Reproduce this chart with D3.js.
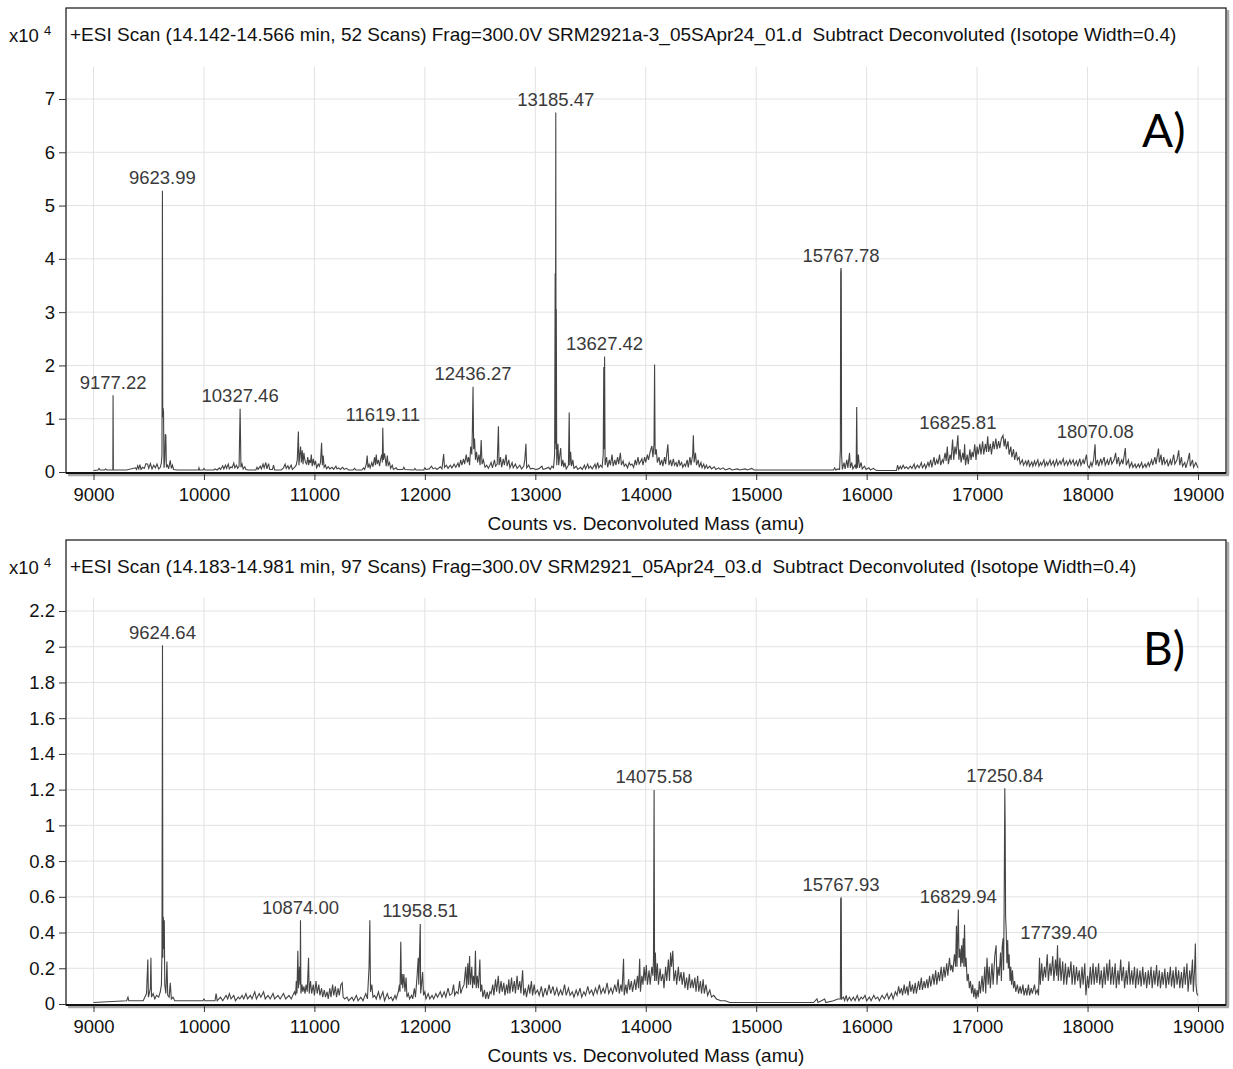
<!DOCTYPE html>
<html><head><meta charset="utf-8">
<script src="https://cdn.jsdelivr.net/npm/d3@7"></script>
<style>body{margin:0;background:#fff}svg text{font-family:"Liberation Sans",Arial,sans-serif}</style>
</head><body><svg id="c" width="1233" height="1069"></svg>
<script>
// ---------- DATA ----------
const xTicks = [9000,10000,11000,12000,13000,14000,15000,16000,17000,18000,19000];
const yTicksA = [0,1,2,3,4,5,6,7];
const yTicksB = [0,0.2,0.4,0.6,0.8,1,1.2,1.4,1.6,1.8,2,2.2];
const titleA = "+ESI Scan (14.142-14.566 min, 52 Scans) Frag=300.0V SRM2921a-3_05SApr24_01.d  Subtract Deconvoluted (Isotope Width=0.4)";
const titleB = "+ESI Scan (14.183-14.981 min, 97 Scans) Frag=300.0V SRM2921_05Apr24_03.d  Subtract Deconvoluted (Isotope Width=0.4)";
const xTitle = "Counts vs. Deconvoluted Mass (amu)";
// labelled peaks: [mass, intensity x10^4]
const peaksA = [[9177.22,1.41],[9623.99,5.25],[10327.46,1.16],[11619.11,0.8],[12436.27,1.57],[13185.47,6.72],[13627.42,2.14],[15767.78,3.8],[16825.81,0.66],[18070.08,0.49]];
const peaksB = [[9624.64,2.0],[10874.00,0.46],[11958.51,0.44],[14075.58,1.19],[15767.93,0.585],[16829.94,0.52],[17250.84,1.2],[17739.40,0.32]];
// spectrum A: [mass, intensity x10^4]
const spectrumA = [[9000,0],[9040,0.01],[9050,0.04],[9060,0.01],[9100,0.01],[9110,0.03],[9120,0.01],[9175,0.01],[9177.22,1.41],[9180,0.01],[9300,0.01],[9380,0.05],[9390,0.02],[9400,0.09],[9410,0.03],[9420,0.11],[9430,0.02],[9445,0.06],[9460,0.04],[9475,0.13],[9490,0.12],[9500,0.04],[9515,0.13],[9530,0.03],[9545,0.1],[9560,0.05],[9575,0.12],[9590,0.03],[9605,0.06],[9615,0.15],[9620,0.3],[9623.99,5.25],[9627,1.0],[9630,1.17],[9634,1.1],[9638,0.05],[9645,0.2],[9650,0.68],[9655,0.66],[9660,0.06],[9670,0.1],[9680,0.03],[9695,0.19],[9705,0.04],[9715,0.1],[9725,0.02],[9760,0.01],[9950,0.01],[9955,0.05],[9960,0.01],[9990,0.01],[10000,0.04],[10010,0.01],[10090,0.01],[10100,0.03],[10120,0.01],[10140,0.05],[10150,0.02],[10170,0.09],[10180,0.03],[10195,0.1],[10205,0.04],[10220,0.12],[10230,0.03],[10245,0.07],[10255,0.05],[10270,0.14],[10280,0.05],[10295,0.1],[10305,0.04],[10318,0.08],[10327.46,1.16],[10335,0.06],[10345,0.12],[10355,0.03],[10370,0.07],[10380,0.02],[10400,0.01],[10470,0.01],[10480,0.06],[10490,0.02],[10510,0.08],[10520,0.03],[10535,0.12],[10545,0.05],[10560,0.15],[10570,0.03],[10585,0.13],[10595,0.02],[10620,0.02],[10630,0.1],[10640,0.01],[10700,0.01],[10720,0.05],[10735,0.12],[10745,0.04],[10760,0.09],[10770,0.03],[10790,0.1],[10800,0.02],[10820,0.06],[10835,0.1],[10845,0.2],[10855,0.73],[10860,0.1],[10868,0.3],[10875,0.45],[10882,0.15],[10890,0.38],[10897,0.12],[10905,0.33],[10912,0.22],[10920,0.15],[10930,0.12],[10940,0.25],[10948,0.1],[10955,0.2],[10965,0.14],[10972,0.3],[10980,0.08],[10990,0.22],[11000,0.1],[11010,0.18],[11020,0.05],[11035,0.12],[11045,0.08],[11055,0.15],[11065,0.52],[11072,0.1],[11080,0.28],[11088,0.06],[11100,0.1],[11110,0.03],[11125,0.07],[11140,0.03],[11160,0.06],[11175,0.02],[11195,0.08],[11205,0.03],[11220,0.05],[11235,0.02],[11255,0.06],[11270,0.02],[11290,0.04],[11310,0.01],[11350,0.01],[11365,0.04],[11375,0.01],[11430,0.01],[11445,0.05],[11455,0.02],[11470,0.12],[11478,0.28],[11485,0.05],[11495,0.12],[11505,0.05],[11520,0.15],[11530,0.07],[11545,0.25],[11552,0.1],[11560,0.3],[11568,0.12],[11580,0.2],[11590,0.08],[11600,0.22],[11610,0.3],[11615,0.15],[11619.11,0.8],[11625,0.2],[11635,0.32],[11642,0.22],[11650,0.08],[11660,0.28],[11668,0.1],[11680,0.15],[11690,0.04],[11705,0.1],[11715,0.02],[11740,0.05],[11750,0.02],[11800,0.02],[11810,0.06],[11820,0.02],[11900,0.01],[11910,0.04],[11920,0.01],[11990,0.01],[12000,0.05],[12010,0.02],[12040,0.03],[12060,0.08],[12075,0.03],[12095,0.05],[12110,0.02],[12140,0.07],[12155,0.03],[12170,0.31],[12178,0.06],[12195,0.1],[12210,0.04],[12230,0.1],[12245,0.05],[12265,0.12],[12280,0.06],[12300,0.14],[12310,0.06],[12325,0.2],[12335,0.1],[12350,0.22],[12360,0.12],[12375,0.3],[12385,0.15],[12395,0.25],[12405,0.1],[12415,0.45],[12425,0.3],[12430,0.73],[12436.27,1.57],[12442,0.4],[12450,0.6],[12458,0.2],[12468,0.35],[12478,0.15],[12490,0.3],[12500,0.1],[12510,0.57],[12518,0.12],[12530,0.2],[12545,0.06],[12560,0.1],[12575,0.04],[12600,0.15],[12612,0.05],[12630,0.2],[12640,0.08],[12655,0.12],[12666,0.83],[12672,0.1],[12685,0.25],[12695,0.06],[12710,0.22],[12720,0.1],[12735,0.3],[12745,0.08],[12760,0.2],[12770,0.05],[12790,0.15],[12800,0.05],[12820,0.12],[12835,0.04],[12860,0.1],[12875,0.03],[12895,0.08],[12905,0.2],[12915,0.5],[12922,0.05],[12940,0.1],[12955,0.03],[12980,0.04],[13000,0.02],[13030,0.03],[13060,0.08],[13070,0.02],[13100,0.04],[13120,0.06],[13135,0.02],[13150,0.08],[13165,0.05],[13175,0.3],[13180,3.7],[13182,0.5],[13185.47,6.72],[13188,0.4],[13190,3.03],[13194,0.1],[13205,0.5],[13212,0.1],[13222,0.3],[13230,0.42],[13238,0.08],[13250,0.2],[13258,0.06],[13268,0.15],[13280,0.03],[13300,0.1],[13307,1.09],[13312,0.1],[13320,0.35],[13328,0.08],[13340,0.2],[13350,0.04],[13370,0.08],[13385,0.02],[13410,0.06],[13425,0.02],[13445,0.1],[13455,0.03],[13475,0.12],[13485,0.04],[13500,0.08],[13515,0.03],[13540,0.12],[13550,0.04],[13565,0.15],[13575,0.05],[13590,0.1],[13605,0.06],[13615,0.3],[13620,1.94],[13624,0.4],[13627.42,2.14],[13632,0.1],[13645,0.25],[13655,0.06],[13670,0.2],[13680,0.1],[13695,0.3],[13705,0.08],[13720,0.2],[13730,0.1],[13745,0.25],[13755,0.12],[13770,0.33],[13780,0.1],[13795,0.18],[13805,0.08],[13820,0.12],[13835,0.05],[13850,0.15],[13862,0.1],[13875,0.12],[13890,0.06],[13905,0.2],[13915,0.1],[13930,0.25],[13940,0.12],[13955,0.18],[13965,0.22],[13975,0.1],[13990,0.25],[14000,0.15],[14015,0.3],[14025,0.2],[14040,0.35],[14055,0.46],[14065,0.25],[14075,0.5],[14080,1.99],[14085,0.3],[14095,0.4],[14105,0.15],[14120,0.25],[14130,0.1],[14145,0.2],[14155,0.08],[14170,0.25],[14180,0.12],[14200,0.49],[14210,0.1],[14225,0.2],[14235,0.08],[14250,0.22],[14260,0.1],[14275,0.15],[14285,0.07],[14300,0.2],[14310,0.1],[14325,0.15],[14335,0.06],[14350,0.12],[14360,0.08],[14375,0.2],[14385,0.06],[14400,0.25],[14410,0.1],[14425,0.3],[14431,0.66],[14438,0.15],[14450,0.33],[14460,0.1],[14475,0.2],[14485,0.06],[14500,0.15],[14510,0.05],[14525,0.12],[14535,0.04],[14550,0.1],[14560,0.04],[14580,0.08],[14595,0.03],[14620,0.07],[14635,0.02],[14660,0.05],[14675,0.02],[14700,0.05],[14720,0.01],[14760,0.04],[14780,0.01],[14830,0.03],[14850,0.01],[14900,0.03],[14920,0.01],[14960,0.04],[14980,0.01],[15700,0.01],[15710,0.05],[15720,0.01],[15740,0.03],[15755,0.02],[15762,0.4],[15765,3.7],[15767.78,3.8],[15770,3.75],[15773,0.3],[15780,0.02],[15795,0.15],[15805,0.03],[15820,0.2],[15830,0.05],[15845,0.33],[15852,0.05],[15865,0.15],[15875,0.03],[15895,0.1],[15905,0.03],[15910,1.19],[15915,0.05],[15925,0.3],[15935,0.05],[15950,0.15],[15960,0.03],[15980,0.08],[15995,0.02],[16020,0.05],[16035,0.01],[16060,0.04],[16080,0.01],[16100,0],[16270,0],[16280,0.1],[16290,0.02],[16305,0.08],[16315,0.03],[16330,0.1],[16345,0.04],[16360,0.07],[16375,0.03],[16395,0.08],[16410,0.04],[16430,0.12],[16440,0.03],[16460,0.1],[16475,0.05],[16495,0.15],[16505,0.05],[16525,0.12],[16535,0.04],[16555,0.15],[16565,0.08],[16580,0.2],[16590,0.06],[16610,0.25],[16620,0.1],[16635,0.2],[16645,0.12],[16660,0.3],[16670,0.1],[16685,0.2],[16695,0.15],[16710,0.33],[16720,0.18],[16730,0.45],[16740,0.12],[16755,0.3],[16765,0.2],[16778,0.58],[16788,0.2],[16800,0.45],[16810,0.3],[16825.81,0.66],[16835,0.2],[16845,0.4],[16855,0.15],[16870,0.33],[16880,0.2],[16887,0.49],[16895,0.1],[16910,0.3],[16920,0.12],[16935,0.4],[16945,0.2],[16955,0.35],[16965,0.25],[16979,0.49],[16990,0.2],[17000,0.45],[17010,0.3],[17025,0.5],[17035,0.3],[17050,0.55],[17060,0.3],[17075,0.5],[17085,0.35],[17096,0.64],[17105,0.35],[17120,0.5],[17130,0.3],[17145,0.55],[17155,0.4],[17170,0.6],[17180,0.4],[17195,0.55],[17205,0.42],[17220,0.6],[17235,0.66],[17245,0.45],[17255,0.6],[17265,0.4],[17280,0.55],[17290,0.3],[17305,0.45],[17315,0.25],[17330,0.4],[17340,0.2],[17355,0.35],[17365,0.2],[17380,0.25],[17390,0.12],[17410,0.2],[17420,0.1],[17440,0.18],[17450,0.1],[17465,0.2],[17475,0.08],[17495,0.16],[17505,0.08],[17520,0.18],[17530,0.1],[17550,0.2],[17560,0.08],[17575,0.15],[17585,0.1],[17605,0.2],[17615,0.08],[17630,0.16],[17640,0.1],[17660,0.2],[17670,0.1],[17690,0.18],[17700,0.08],[17720,0.2],[17730,0.1],[17750,0.18],[17760,0.12],[17780,0.22],[17790,0.1],[17810,0.18],[17820,0.1],[17840,0.2],[17850,0.12],[17870,0.2],[17880,0.1],[17900,0.18],[17910,0.08],[17930,0.22],[17940,0.1],[17960,0.2],[17970,0.12],[17990,0.3],[18000,0.1],[18015,0.05],[18030,0.15],[18040,0.08],[18055,0.2],[18068,0.49],[18075,0.1],[18090,0.2],[18100,0.08],[18120,0.22],[18130,0.12],[18150,0.25],[18160,0.1],[18180,0.2],[18190,0.1],[18210,0.25],[18220,0.12],[18240,0.2],[18254,0.33],[18265,0.12],[18280,0.25],[18290,0.1],[18310,0.2],[18320,0.12],[18342,0.42],[18350,0.1],[18370,0.2],[18380,0.06],[18400,0.15],[18410,0.06],[18430,0.12],[18440,0.05],[18460,0.12],[18470,0.06],[18490,0.15],[18500,0.05],[18520,0.12],[18530,0.06],[18550,0.15],[18560,0.08],[18580,0.2],[18590,0.1],[18610,0.25],[18620,0.12],[18642,0.41],[18650,0.15],[18665,0.3],[18675,0.1],[18690,0.25],[18700,0.12],[18720,0.2],[18730,0.08],[18750,0.2],[18760,0.1],[18780,0.3],[18790,0.12],[18810,0.2],[18825,0.38],[18835,0.1],[18850,0.25],[18860,0.08],[18880,0.15],[18890,0.05],[18910,0.2],[18923,0.33],[18930,0.08],[18950,0.2],[18960,0.06],[18980,0.15],[18990,0.1],[19000,0.05]];
// spectrum B: [mass, intensity x10^4]
const spectrumB = [[9000,0],[9300,0.01],[9312,0.03],[9320,0.01],[9450,0.01],[9480,0.05],[9492,0.24],[9497,0.03],[9505,0.05],[9515,0.08],[9520,0.25],[9525,0.03],[9540,0.05],[9555,0.02],[9570,0.04],[9590,0.03],[9605,0.06],[9615,0.1],[9620,0.3],[9624.64,2.0],[9628,0.25],[9632,0.48],[9637,0.3],[9641,0.46],[9645,0.1],[9655,0.05],[9665,0.23],[9672,0.04],[9685,0.03],[9695,0.11],[9705,0.02],[9720,0.03],[9735,0.01],[9900,0.01],[9990,0.01],[10000,0.02],[10010,0.01],[10100,0.01],[10110,0.05],[10120,0.01],[10150,0.03],[10170,0.01],[10200,0.04],[10215,0.02],[10230,0.05],[10245,0.02],[10270,0.04],[10285,0.01],[10310,0.03],[10325,0.02],[10345,0.04],[10360,0.02],[10380,0.05],[10395,0.02],[10420,0.04],[10435,0.02],[10460,0.06],[10475,0.02],[10500,0.05],[10515,0.03],[10540,0.06],[10555,0.02],[10580,0.04],[10600,0.02],[10625,0.05],[10640,0.02],[10670,0.04],[10690,0.02],[10720,0.05],[10740,0.02],[10770,0.04],[10790,0.02],[10820,0.06],[10830,0.04],[10836,0.12],[10842,0.05],[10850,0.29],[10856,0.08],[10865,0.2],[10871,0.1],[10874,0.46],[10878,0.05],[10888,0.1],[10895,0.06],[10905,0.09],[10915,0.05],[10925,0.1],[10935,0.06],[10947,0.25],[10953,0.05],[10965,0.12],[10975,0.05],[10990,0.1],[11000,0.04],[11015,0.12],[11025,0.05],[11040,0.1],[11050,0.04],[11065,0.08],[11075,0.03],[11090,0.07],[11100,0.03],[11115,0.06],[11125,0.02],[11140,0.08],[11150,0.03],[11165,0.1],[11175,0.04],[11190,0.09],[11200,0.03],[11215,0.08],[11225,0.04],[11240,0.1],[11252,0.11],[11260,0.03],[11275,0.02],[11295,0.03],[11310,0.01],[11340,0.03],[11355,0.01],[11380,0.04],[11395,0.01],[11420,0.03],[11440,0.01],[11465,0.05],[11480,0.02],[11495,0.2],[11502,0.46],[11508,0.06],[11520,0.1],[11530,0.03],[11545,0.04],[11560,0.02],[11580,0.06],[11595,0.02],[11620,0.06],[11635,0.01],[11660,0.05],[11675,0.02],[11695,0.03],[11710,0.01],[11730,0.04],[11740,0.02],[11760,0.06],[11770,0.1],[11775,0.06],[11782,0.34],[11788,0.1],[11795,0.16],[11800,0.08],[11810,0.16],[11820,0.06],[11830,0.14],[11838,0.03],[11850,0.05],[11862,0.02],[11880,0.04],[11890,0.02],[11905,0.08],[11915,0.03],[11930,0.15],[11940,0.25],[11945,0.1],[11958.51,0.44],[11962,0.05],[11970,0.1],[11980,0.17],[11988,0.04],[12000,0.06],[12010,0.02],[12030,0.05],[12045,0.02],[12065,0.04],[12080,0.02],[12100,0.05],[12115,0.03],[12140,0.06],[12155,0.03],[12175,0.06],[12190,0.03],[12210,0.08],[12225,0.04],[12245,0.05],[12260,0.1],[12270,0.04],[12285,0.06],[12300,0.05],[12315,0.12],[12325,0.05],[12340,0.08],[12355,0.1],[12370,0.2],[12378,0.08],[12389,0.22],[12395,0.1],[12405,0.26],[12412,0.1],[12425,0.2],[12432,0.08],[12440,0.15],[12450,0.1],[12458,0.29],[12465,0.08],[12475,0.15],[12485,0.08],[12498,0.24],[12505,0.06],[12515,0.1],[12525,0.03],[12540,0.07],[12550,0.02],[12565,0.06],[12575,0.02],[12590,0.06],[12600,0.05],[12615,0.1],[12625,0.04],[12640,0.13],[12650,0.06],[12665,0.15],[12675,0.05],[12690,0.12],[12700,0.06],[12715,0.11],[12725,0.04],[12740,0.1],[12750,0.05],[12760,0.13],[12770,0.05],[12785,0.14],[12795,0.06],[12810,0.12],[12820,0.05],[12835,0.15],[12845,0.07],[12860,0.12],[12870,0.05],[12885,0.18],[12895,0.04],[12910,0.08],[12920,0.03],[12940,0.1],[12950,0.05],[12965,0.12],[12975,0.04],[12990,0.1],[13000,0.05],[13020,0.07],[13035,0.04],[13055,0.09],[13070,0.03],[13090,0.08],[13105,0.04],[13125,0.1],[13140,0.05],[13160,0.09],[13175,0.04],[13195,0.08],[13210,0.04],[13230,0.07],[13245,0.04],[13265,0.1],[13280,0.04],[13300,0.08],[13315,0.04],[13335,0.06],[13350,0.03],[13370,0.07],[13385,0.04],[13405,0.08],[13420,0.03],[13440,0.06],[13455,0.04],[13475,0.09],[13490,0.05],[13510,0.07],[13525,0.04],[13545,0.08],[13560,0.05],[13580,0.1],[13595,0.05],[13615,0.08],[13630,0.05],[13650,0.11],[13665,0.05],[13685,0.08],[13700,0.05],[13720,0.1],[13735,0.06],[13750,0.13],[13760,0.05],[13775,0.1],[13785,0.06],[13799,0.245],[13805,0.04],[13820,0.1],[13830,0.05],[13845,0.13],[13855,0.07],[13870,0.12],[13880,0.06],[13900,0.13],[13910,0.07],[13925,0.15],[13935,0.08],[13945,0.245],[13952,0.06],[13965,0.15],[13975,0.1],[13985,0.2],[13995,0.12],[14005,0.21],[14015,0.1],[14030,0.18],[14040,0.1],[14055,0.2],[14065,0.15],[14070,0.24],[14075.58,1.19],[14080,0.12],[14087,0.28],[14095,0.12],[14105,0.22],[14115,0.1],[14130,0.19],[14140,0.12],[14155,0.16],[14165,0.08],[14180,0.2],[14190,0.12],[14205,0.24],[14215,0.12],[14225,0.28],[14233,0.2],[14245,0.29],[14255,0.12],[14270,0.18],[14280,0.1],[14295,0.2],[14305,0.12],[14320,0.17],[14330,0.1],[14345,0.17],[14355,0.08],[14370,0.14],[14380,0.07],[14395,0.16],[14405,0.08],[14420,0.13],[14430,0.08],[14445,0.14],[14455,0.06],[14470,0.15],[14480,0.06],[14495,0.12],[14505,0.05],[14520,0.13],[14530,0.05],[14545,0.1],[14560,0.04],[14580,0.07],[14595,0.03],[14615,0.04],[14640,0.02],[14680,0.01],[14720,0.01],[14760,0],[15520,0],[15550,0.02],[15560,0],[15620,0.02],[15630,0],[15700,0.01],[15740,0.02],[15762,0.02],[15765,0.58],[15767.93,0.585],[15770,0.58],[15773,0.02],[15790,0.03],[15800,0.01],[15815,0.04],[15825,0.01],[15845,0.03],[15860,0.01],[15880,0.03],[15895,0.01],[15915,0.04],[15930,0.01],[15950,0.03],[15965,0.02],[15985,0.04],[16000,0.01],[16025,0.03],[16040,0.01],[16065,0.04],[16080,0.02],[16100,0.03],[16115,0.01],[16140,0.04],[16160,0.02],[16185,0.05],[16200,0.02],[16225,0.05],[16240,0.02],[16260,0.06],[16275,0.04],[16290,0.09],[16300,0.05],[16315,0.08],[16325,0.04],[16340,0.1],[16350,0.05],[16365,0.09],[16375,0.04],[16390,0.12],[16400,0.06],[16415,0.1],[16425,0.05],[16440,0.11],[16450,0.05],[16470,0.12],[16480,0.07],[16495,0.14],[16505,0.07],[16520,0.12],[16530,0.08],[16545,0.13],[16555,0.08],[16570,0.15],[16580,0.09],[16600,0.16],[16610,0.1],[16625,0.18],[16635,0.1],[16650,0.17],[16660,0.12],[16675,0.2],[16685,0.12],[16700,0.2],[16710,0.14],[16725,0.22],[16735,0.15],[16750,0.25],[16760,0.18],[16770,0.21],[16780,0.17],[16795,0.27],[16805,0.2],[16813,0.43],[16818,0.2],[16829.94,0.52],[16836,0.25],[16845,0.3],[16852,0.2],[16860,0.32],[16866,0.22],[16875,0.36],[16880,0.2],[16886,0.435],[16893,0.2],[16900,0.25],[16910,0.12],[16920,0.16],[16930,0.08],[16940,0.12],[16950,0.05],[16960,0.1],[16970,0.03],[16980,0.08],[16990,0.02],[17000,0.07],[17010,0.03],[17020,0.12],[17030,0.05],[17045,0.15],[17055,0.06],[17070,0.2],[17078,0.05],[17090,0.25],[17100,0.1],[17110,0.2],[17120,0.08],[17135,0.22],[17145,0.1],[17160,0.26],[17172,0.32],[17180,0.1],[17190,0.2],[17200,0.15],[17212,0.28],[17220,0.12],[17227,0.31],[17235,0.36],[17240,0.18],[17245,0.55],[17250.84,1.2],[17254,1.0],[17258,0.48],[17263,0.41],[17270,0.22],[17277,0.35],[17283,0.19],[17290,0.27],[17298,0.12],[17305,0.2],[17312,0.1],[17320,0.18],[17330,0.08],[17340,0.12],[17350,0.06],[17365,0.1],[17375,0.05],[17390,0.09],[17400,0.05],[17415,0.1],[17425,0.04],[17440,0.08],[17450,0.04],[17465,0.1],[17475,0.04],[17490,0.08],[17500,0.05],[17520,0.1],[17530,0.05],[17545,0.07],[17556,0.04],[17565,0.25],[17572,0.1],[17585,0.22],[17595,0.12],[17610,0.2],[17620,0.14],[17635,0.27],[17645,0.12],[17660,0.22],[17670,0.15],[17685,0.26],[17695,0.12],[17710,0.24],[17720,0.15],[17728,0.32],[17735,0.12],[17750,0.25],[17760,0.12],[17775,0.23],[17785,0.1],[17800,0.22],[17810,0.1],[17825,0.2],[17835,0.14],[17850,0.23],[17860,0.1],[17875,0.21],[17885,0.1],[17900,0.2],[17910,0.12],[17925,0.18],[17935,0.08],[17950,0.2],[17960,0.1],[17975,0.22],[17985,0.04],[18000,0.15],[18010,0.08],[18025,0.2],[18035,0.1],[18050,0.22],[18060,0.1],[18075,0.2],[18085,0.11],[18100,0.22],[18110,0.1],[18125,0.18],[18135,0.08],[18150,0.2],[18160,0.1],[18175,0.22],[18185,0.12],[18200,0.24],[18210,0.1],[18225,0.2],[18235,0.1],[18250,0.22],[18260,0.08],[18275,0.18],[18285,0.1],[18300,0.24],[18310,0.12],[18325,0.2],[18335,0.08],[18350,0.18],[18360,0.1],[18375,0.23],[18385,0.1],[18400,0.18],[18410,0.1],[18425,0.2],[18435,0.08],[18450,0.19],[18460,0.1],[18475,0.18],[18485,0.09],[18500,0.2],[18510,0.1],[18525,0.17],[18535,0.08],[18550,0.18],[18560,0.1],[18575,0.2],[18585,0.08],[18600,0.18],[18610,0.1],[18625,0.21],[18635,0.09],[18650,0.18],[18660,0.08],[18675,0.17],[18685,0.1],[18700,0.19],[18710,0.08],[18725,0.17],[18735,0.1],[18750,0.2],[18760,0.09],[18775,0.18],[18785,0.08],[18800,0.2],[18810,0.1],[18825,0.18],[18835,0.08],[18850,0.17],[18860,0.08],[18875,0.2],[18885,0.1],[18900,0.22],[18910,0.06],[18925,0.18],[18935,0.1],[18950,0.24],[18958,0.06],[18970,0.2],[18976,0.33],[18982,0.1],[18990,0.05],[19000,0.04]];

// ---------- DRAW ----------
const svg = d3.select("#c");
function panel(cfg){
  const g = svg.append("g");
  const x = d3.scaleLinear().domain([9000,19000]).range([93.5,1198]);
  const y = d3.scaleLinear().domain([0,cfg.yMax]).range([cfg.y0px, cfg.yMaxPx]);
  const L=66, R=1226, T=cfg.top, B=cfg.bottom;
  // shadow
  g.append("line").attr("x1",R+2).attr("x2",R+2).attr("y1",T+2).attr("y2",B+2).attr("stroke","#a8a8a8").attr("stroke-width",2.5);
  g.append("line").attr("x1",L+2).attr("x2",R+3).attr("y1",B+2).attr("y2",B+2).attr("stroke","#a8a8a8").attr("stroke-width",2.5);
  // grid
  g.selectAll(".vg").data(xTicks).join("line").attr("x1",d=>x(d)).attr("x2",d=>x(d)).attr("y1",cfg.gridTop).attr("y2",B).attr("stroke","#e2e2e2");
  g.selectAll(".hg").data(cfg.yTicks.filter(d=>d>0)).join("line").attr("x1",L).attr("x2",R).attr("y1",d=>y(d)).attr("y2",d=>y(d)).attr("stroke","#e2e2e2");
  // frame
  g.append("rect").attr("x",L).attr("y",T).attr("width",R-L).attr("height",B-T).attr("fill","none").attr("stroke","#111").attr("stroke-width",1.2);
  g.append("line").attr("x1",L).attr("x2",R).attr("y1",B).attr("y2",B).attr("stroke","#111").attr("stroke-width",2);
  // axes
  const xa = g.append("g").attr("transform",`translate(0,${B})`)
    .call(d3.axisBottom(x).tickValues(xTicks).tickFormat(d3.format("d")).tickSize(7).tickSizeOuter(0));
  xa.select(".domain").remove();
  xa.selectAll("text").attr("font-size",18.5).attr("fill","#111").attr("dy","0.95em").attr("font-family","Liberation Sans, Arial, sans-serif");
  xa.selectAll("line").attr("stroke","#333");
  const ya = g.append("g").attr("transform",`translate(${L},0)`)
    .call(d3.axisLeft(y).tickValues(cfg.yTicks).tickFormat(d=>d3.format("~g")(d)).tickSize(7).tickSizeOuter(0));
  ya.select(".domain").remove();
  ya.selectAll("text").attr("font-size",18.5).attr("fill","#111").attr("x",-11).attr("font-family","Liberation Sans, Arial, sans-serif");
  ya.selectAll("line").attr("stroke","#333");
  // exponent
  const ex = g.append("text").attr("x",9).attr("y",T+34).attr("font-size",18.5).attr("fill","#111");
  ex.append("tspan").text("x10 ");
  ex.append("tspan").text("4").attr("font-size",13).attr("dy",-7);
  // header
  g.append("text").attr("x",70).attr("y",T+33).attr("font-size",19).attr("fill","#111").style("white-space","pre").text(cfg.title);
  // trace
  const line = d3.line().x(d=>x(d[0])).y(d=>y(d[1])-1.5);
  g.append("path").datum(cfg.data).attr("d",line).attr("fill","none").attr("stroke","#444").attr("stroke-width",1.1).attr("stroke-linejoin","miter");
  // peak labels
  g.selectAll(".pl").data(cfg.peaks).join("text").attr("x",d=>x(d[0])).attr("y",d=>y(d[1])-8)
    .attr("text-anchor","middle").attr("font-size",18.5).attr("fill","#3a3a3a").text(d=>d[0].toFixed(2));
  // x title
  g.append("text").attr("x",646).attr("y",B+57).attr("text-anchor","middle").attr("font-size",19).attr("fill","#111").text(xTitle);
  // panel letter
  g.append("text").attr("x",cfg.letterX).attr("y",cfg.letterY).attr("font-size",46).attr("fill","#000").style("font-family","Lato, 'Open Sans', sans-serif").text(cfg.letter);
}
panel({top:8,bottom:473,gridTop:67,yMax:7,y0px:472,yMaxPx:99,yTicks:yTicksA,title:titleA,data:spectrumA,peaks:peaksA,letter:"A)",letterX:1142,letterY:147});
panel({top:540,bottom:1005,gridTop:598,yMax:2.2,y0px:1004,yMaxPx:611,yTicks:yTicksB,title:titleB,data:spectrumB,peaks:peaksB,letter:"B)",letterX:1143,letterY:665});
</script></body></html>
